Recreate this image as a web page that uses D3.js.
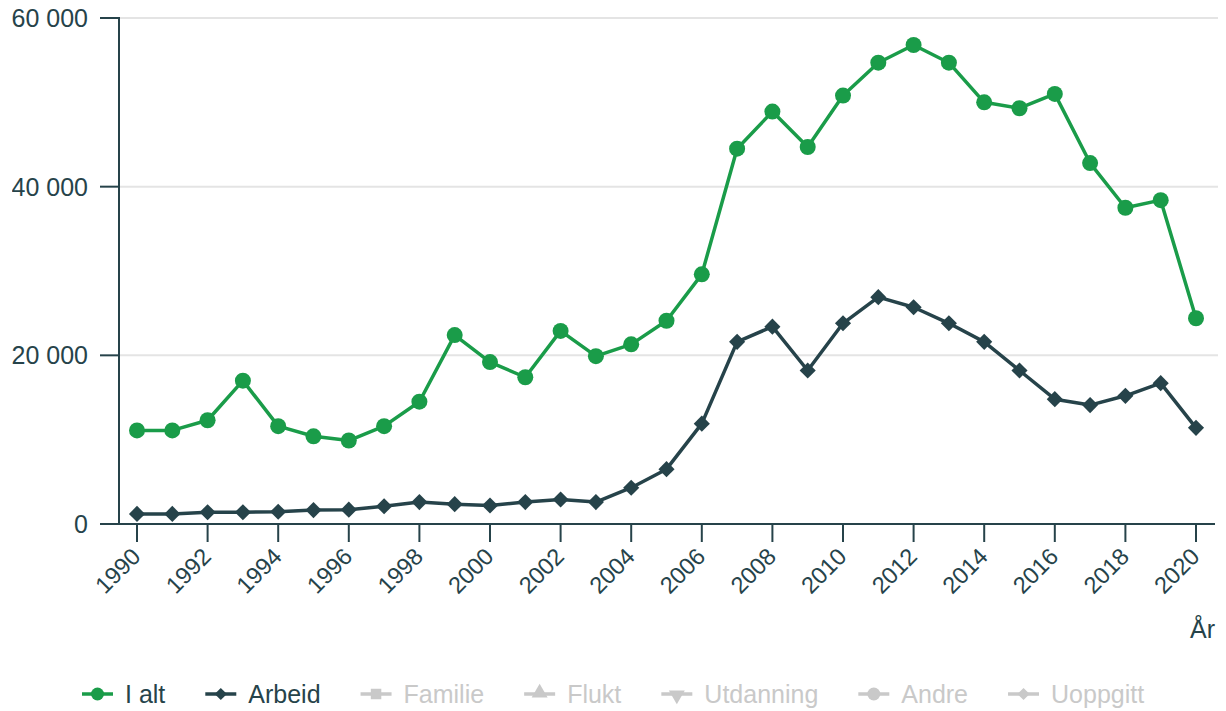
<!DOCTYPE html>
<html><head><meta charset="utf-8">
<script src="https://cdn.jsdelivr.net/npm/d3@7"></script>
<style>
html,body{margin:0;padding:0;background:#fff;}
svg{display:block;font-family:"Liberation Sans",Arial,Helvetica,sans-serif;}
</style></head>
<body>
<svg id="chart" width="1226" height="711"></svg>
<script>
const years = d3.range(1990, 2021);
const iAlt = [11100,11100,12300,17000,11600,10400,9900,11600,14500,22400,19200,17400,22900,19900,21300,24100,29600,44500,48900,44700,50800,54700,56800,54700,50000,49300,51000,42800,37500,38400,24400];
const arbeid = [1200,1200,1400,1400,1450,1650,1700,2100,2600,2350,2200,2600,2900,2600,4300,6500,11900,21600,23400,18200,23800,26900,25700,23800,21600,18200,14800,14100,15200,16700,11400];
const yTicks = [0, 20000, 40000, 60000];
const xTicks = d3.range(1990, 2021, 2);
const legendNames = ["I alt","Arbeid","Familie","Flukt","Utdanning","Andre","Uoppgitt"];
const legendSymbols = ["circle","diamond","square","triangle","triangleDown","circle","diamond"];

const green = "#1a9c49", dark = "#26434a", grey = "#c9c9c9";
const svg = d3.select("#chart");
const x = d3.scaleLinear().domain([1990, 2020]).range([137, 1196]);
const y = d3.scaleLinear().domain([0, 60000]).range([524, 18]);
const fmt = v => d3.format(",")(v).replace(/,/g, " ");

svg.append("defs").append("clipPath").attr("id", "yclip")
  .append("rect").attr("x", 12).attr("y", 0).attr("width", 200).attr("height", 711);

// grid
svg.append("g").selectAll("line").data(yTicks.filter(d => d > 0)).join("line")
  .attr("x1", 119).attr("x2", 1218).attr("y1", d => y(d)).attr("y2", d => y(d))
  .attr("stroke", "#e4e4e4").attr("stroke-width", 2);

// y axis
const ya = svg.append("g");
ya.append("line").attr("x1", 119).attr("x2", 119).attr("y1", y(60000) - 1).attr("y2", y(0))
  .attr("stroke", dark).attr("stroke-width", 2);
ya.selectAll("line.t").data(yTicks).join("line").attr("class","t")
  .attr("x1", 100).attr("x2", 119).attr("y1", d => y(d)).attr("y2", d => y(d))
  .attr("stroke", dark).attr("stroke-width", 2);
ya.append("g").attr("clip-path", "url(#yclip)").selectAll("text").data(yTicks).join("text")
  .attr("x", 88).attr("y", d => y(d)).attr("dy", "0.36em").attr("text-anchor", "end")
  .attr("font-size", 25).attr("fill", dark).text(fmt);

// x axis
const xa = svg.append("g");
xa.append("line").attr("x1", 100).attr("x2", 1215).attr("y1", 524).attr("y2", 524)
  .attr("stroke", dark).attr("stroke-width", 2);
xa.selectAll("line.t").data(xTicks).join("line").attr("class","t")
  .attr("x1", d => x(d)).attr("x2", d => x(d)).attr("y1", 524).attr("y2", 542)
  .attr("stroke", dark).attr("stroke-width", 2);
xa.selectAll("text").data(xTicks).join("text")
  .attr("transform", d => `translate(${x(d) + 5},${558}) rotate(-45)`)
  .attr("text-anchor", "end")
  .attr("font-size", 23.5).attr("fill", dark).text(d => d);
svg.append("text").attr("x", 1215).attr("y", 638).attr("text-anchor", "end")
  .attr("font-size", 25).attr("fill", dark).text("År");

// lines
const line = d3.line().x((d, i) => x(years[i])).y(d => y(d));
svg.append("path").datum(iAlt).attr("d", line).attr("fill", "none")
  .attr("stroke", green).attr("stroke-width", 3.5).attr("stroke-linejoin", "round");
svg.append("path").datum(arbeid).attr("d", line).attr("fill", "none")
  .attr("stroke", dark).attr("stroke-width", 3.5).attr("stroke-linejoin", "round");

svg.append("g").selectAll("circle").data(iAlt).join("circle")
  .attr("cx", (d, i) => x(years[i])).attr("cy", d => y(d)).attr("r", 8).attr("fill", green);
svg.append("g").selectAll("path").data(arbeid).join("path")
  .attr("transform", (d, i) => `translate(${x(years[i])},${y(d)}) rotate(45)`)
  .attr("d", d3.symbol(d3.symbolSquare, 130)()).attr("fill", dark);

// legend
const ly = 694;
const lg = svg.append("g");
let lx = 82;
legendNames.forEach((name, i) => {
  const c = i === 0 ? green : (i === 1 ? dark : grey);
  const tc = i < 2 ? dark : grey;
  const g = lg.append("g").attr("transform", `translate(${lx},${ly})`);
  g.append("line").attr("x1", 0).attr("x2", 31).attr("y1", 0).attr("y2", 0)
    .attr("stroke", c).attr("stroke-width", 3.5);
  const s = legendSymbols[i];
  if (s === "circle") {
    g.append("circle").attr("cx", 15.5).attr("cy", 0).attr("r", 6.5).attr("fill", c);
  } else if (s === "diamond") {
    g.append("path").attr("transform", "translate(15.5,0) rotate(45)")
      .attr("d", d3.symbol(d3.symbolSquare, 75)()).attr("fill", c);
  } else if (s === "square") {
    g.append("path").attr("transform", "translate(15.5,0)")
      .attr("d", d3.symbol(d3.symbolSquare, 110)()).attr("fill", c);
  } else {
    const rot = s === "triangleDown" ? 180 : 0;
    g.append("path").attr("transform", `translate(15.5,${s === "triangle" ? -1 : 1}) rotate(${rot})`)
      .attr("d", d3.symbol(d3.symbolTriangle, 110)()).attr("fill", c);
  }
  const t = g.append("text").attr("x", 43).attr("y", 0).attr("dy", "0.36em")
    .attr("font-size", 25).attr("fill", tc).text(name);
  lx += 43 + t.node().getComputedTextLength() + 40;
});
</script>
</body></html>
